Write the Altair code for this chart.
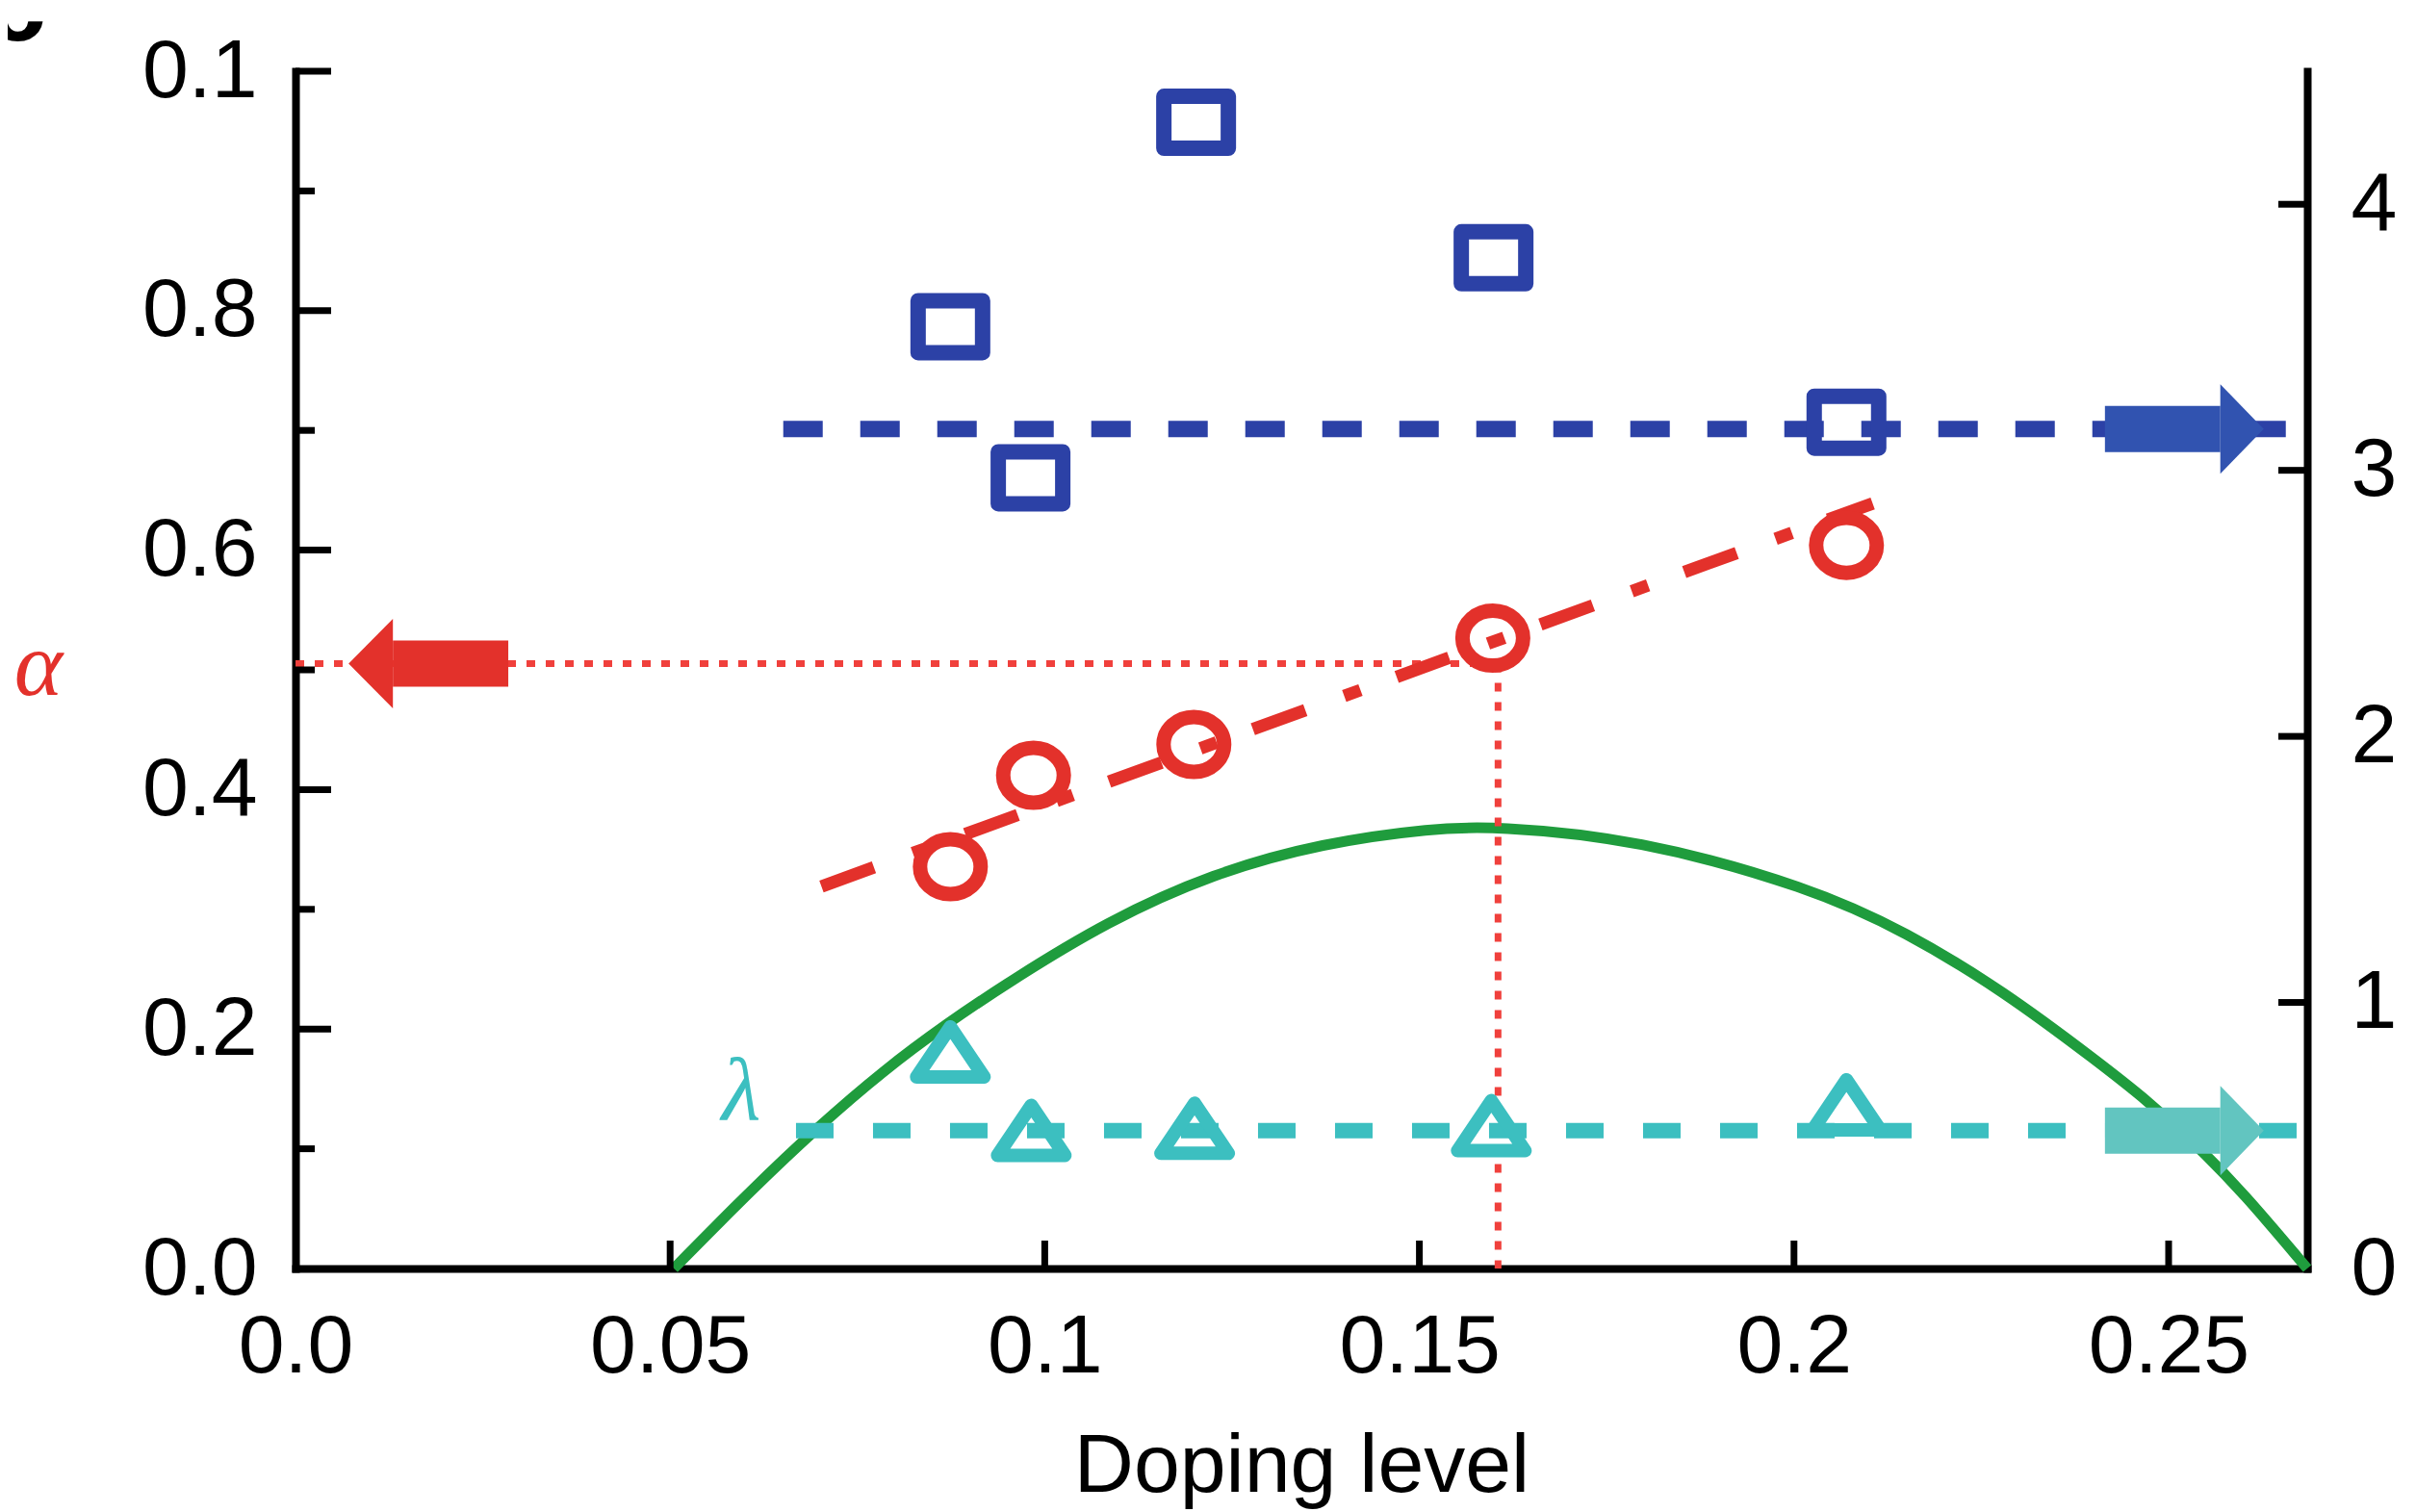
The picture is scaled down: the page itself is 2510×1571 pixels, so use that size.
import altair as alt
import pandas as pd

# ---------------- data ----------------
x_ticks = [0.0, 0.05, 0.1, 0.15, 0.2, 0.25]
x_tick_labels = ["0.0", "0.05", "0.1", "0.15", "0.2", "0.25"]
left_ticks = [0.0, 0.2, 0.4, 0.6, 0.8, 1.0]
left_tick_labels = ["0.0", "0.2", "0.4", "0.6", "0.8", "0.1"]
left_minor = [0.1, 0.3, 0.5, 0.7, 0.9]
right_ticks = [0, 1, 2, 3, 4]
right_tick_labels = ["0", "1", "2", "3", "4"]
x_inner_ticks = [0.05, 0.1, 0.15, 0.2, 0.25]
left_major_inner = [0.2, 0.4, 0.6, 0.8, 1.0]
right_inner = [1, 2, 3, 4]

# blue squares (right axis)
sq_x = [0.0874, 0.0981, 0.1202, 0.1599, 0.2070]
sq_y = [3.540, 2.972, 4.308, 3.799, 3.181]
# red circles (left axis)
ci_x = [0.0874, 0.0985, 0.1199, 0.1598, 0.2070]
ci_y = [0.3356, 0.412, 0.4377, 0.5265, 0.604]
# cyan triangles (right axis)
tr_x = [0.0874, 0.0982, 0.1200, 0.1596, 0.2070]
tr_y = [0.814, 0.519, 0.527, 0.537, 0.615]

# guide lines
blue_line_x = [0.0651, 0.2663]
blue_line_y = 3.155
cyan_line_x = [0.0668, 0.2673]
cyan_line_y = 0.518
red_line_x = [0.0702, 0.2105]
red_line_y = [0.3191, 0.639]
red_dot_x = 0.1605
red_dot_y = 0.5052

# green curve (left axis)
green_x = [0.0505, 0.0612, 0.0698, 0.0784, 0.0869, 0.0955, 0.1083, 0.1224,
           0.1371, 0.1519, 0.1600, 0.1790, 0.2022, 0.2150, 0.2279, 0.2407,
           0.2472, 0.2536, 0.2600, 0.2685]
green_y = [0.0, 0.0679, 0.1186, 0.1650, 0.2045, 0.2405, 0.2898, 0.3300,
           0.3555, 0.3678, 0.3694, 0.3590, 0.3182, 0.2810, 0.2320, 0.1720,
           0.1400, 0.1040, 0.0630, 0.0]

# arrows: tail, head base, y
red_arrow = {"tail": 0.0284, "base": 0.0130, "y": 0.5052}
blue_arrow = {"tail": 0.2415, "base": 0.2569, "y": 3.155}
cyan_arrow = {"tail": 0.2415, "base": 0.2569, "y": 0.518}

# annotations
alpha_pos = (-0.0343, 0.4795)
lambda_pos = (0.0595, 0.5625)

# ---------------- styling ----------------
FONT = "Liberation Sans"
SERIF = "Liberation Serif"
W, H = 2090, 1244
BLUE = "#2c41a6"
BLUE_ARROW = "#3153b0"
RED = "#e3312b"
RED_DOT = "#f0403c"
GREEN = "#1f9c3d"
CYAN = "#3cbfc0"
CYAN_ARROW = "#62c5c0"

xs = alt.Scale(domain=[0, 0.2685], nice=False, zero=False)
yls = alt.Scale(domain=[0, 1], nice=False, zero=False)
yrs = alt.Scale(domain=[0, 4.5], nice=False, zero=False)


def lab_expr(labels, step):
    arr = "[" + ",".join("'%s'" % s for s in labels) + "]"
    return "%s[round(datum.value / %s)]" % (arr, step)


common_axis = dict(ticks=False, tickSize=0, domain=True, domainColor="black",
                   domainWidth=8, domainCap="square", grid=False,
                   labelFont=FONT, labelFontSize=86, labelColor="black",
                   labelOverlap=False, labelFlush=False)

x_axis = alt.Axis(orient="bottom", values=x_ticks, labelExpr=lab_expr(x_tick_labels, 0.05),
                  labelBaseline="alphabetic", labelPadding=107,
                  title="Doping level", titleFont=FONT, titleFontSize=86,
                  titleFontWeight="normal", titleColor="black",
                  titleBaseline="alphabetic", titleY=231, **common_axis)
yl_axis = alt.Axis(orient="left", values=left_ticks, labelExpr=lab_expr(left_tick_labels, 0.2),
                   labelPadding=40, title=None, **common_axis)
yr_axis = alt.Axis(orient="right", values=right_ticks, labelExpr=lab_expr(right_tick_labels, 1),
                   labelPadding=45, title=None, **common_axis)


def X(f="x"):
    return alt.X(f, type="quantitative", scale=xs, axis=x_axis)


def YL(f="y"):
    return alt.Y(f, type="quantitative", scale=yls, axis=yl_axis)


def YR(f="y"):
    return alt.Y(f, type="quantitative", scale=yrs, axis=yr_axis)


SQUARE = "M-1,-0.806L1,-0.806L1,0.806L-1,0.806Z"
K = 0.5523
RY = 0.905
ELLIPSE = ("M-1,0C-1,%.4f,%.4f,%.4f,0,%.4fC%.4f,%.4f,1,%.4f,1,0"
           "C1,%.4f,%.4f,%.4f,0,%.4fC%.4f,%.4f,-1,%.4f,-1,0Z") % (
    -RY * K, -K, -RY, -RY, K, -RY, -RY * K,
    RY * K, K, RY, RY, -K, RY, RY * K)
TRIANGLE = "M0,-0.743L1,0.743L-1,0.743Z"
HEAD_RIGHT = "M0,-1L0.97,0L0,1Z"
HEAD_LEFT = "M0,-1L-0.99,0L0,1Z"

# ---------------- left-axis layers ----------------
green = alt.Chart(pd.DataFrame({"x": green_x, "y": green_y})).mark_line(
    color=GREEN, strokeWidth=11, interpolate="basis").encode(x=X(), y=YL())

red_h = alt.Chart(pd.DataFrame({"x": [0.0], "x2": [red_dot_x], "y": [red_dot_y]})).mark_rule(
    color=RED_DOT, strokeWidth=7, strokeDash=[9, 11]).encode(x=X(), x2="x2", y=YL())
red_v = alt.Chart(pd.DataFrame({"x": [red_dot_x], "y": [red_dot_y], "y2": [0.0]})).mark_rule(
    color=RED_DOT, strokeWidth=7, strokeDash=[9, 11]).encode(x=X(), y=YL(), y2="y2")

red_line = alt.Chart(pd.DataFrame({"x": red_line_x, "y": red_line_y})).mark_line(
    color=RED, strokeWidth=13, strokeDash=[58, 43, 18, 40]).encode(x=X(), y=YL())

circles = alt.Chart(pd.DataFrame({"x": ci_x, "y": ci_y})).mark_point(
    shape=ELLIPSE, size=3969, filled=False, stroke=RED, strokeWidth=15, opacity=1
).encode(x=X(), y=YL())

red_shaft = alt.Chart(pd.DataFrame({"x": [red_arrow["tail"]], "x2": [red_arrow["base"]],
                                    "y": [red_arrow["y"]]})).mark_rule(
    color=RED, strokeWidth=48, strokeCap="butt").encode(x=X(), x2="x2", y=YL())
red_head = alt.Chart(pd.DataFrame({"x": [red_arrow["base"]], "y": [red_arrow["y"]]})).mark_point(
    shape=HEAD_LEFT, size=93 * 93, filled=True, fill=RED, strokeWidth=0, opacity=1
).encode(x=X(), y=YL())

alpha_txt = alt.Chart(pd.DataFrame({"x": [alpha_pos[0]], "y": [alpha_pos[1]], "t": ["α"]})).mark_text(
    font=SERIF, fontStyle="italic", fontSize=96, color=RED, align="center", baseline="alphabetic"
).encode(x=X(), y=YL(), text="t:N")

panel_txt = alt.Chart(pd.DataFrame({"t": ["c"]})).mark_text(
    font=FONT, fontWeight="bold", fontSize=110, color="black", align="center", baseline="alphabetic"
).encode(x=alt.value(-290), y=alt.value(-32), text="t:N")

x_tick_rules = alt.Chart(pd.DataFrame({"x": x_inner_ticks})).mark_rule(
    color="black", strokeWidth=7, strokeCap="butt").encode(x=X(), y=alt.value(H), y2=alt.value(H - 29))
l_major = alt.Chart(pd.DataFrame({"y": left_major_inner})).mark_rule(
    color="black", strokeWidth=7, strokeCap="butt").encode(y=YL(), x=alt.value(0), x2=alt.value(37))
l_minor = alt.Chart(pd.DataFrame({"y": left_minor})).mark_rule(
    color="black", strokeWidth=7, strokeCap="butt").encode(y=YL(), x=alt.value(0), x2=alt.value(20))

left_group = alt.layer(green, red_h, red_v, red_line, circles, red_shaft, red_head,
                       alpha_txt, panel_txt, x_tick_rules, l_major, l_minor)

# ---------------- right-axis layers ----------------
blue_line = alt.Chart(pd.DataFrame({"x": [blue_line_x[0]], "x2": [blue_line_x[1]],
                                    "y": [blue_line_y]})).mark_rule(
    color=BLUE, strokeWidth=17, strokeDash=[41, 39], strokeCap="butt").encode(x=X(), x2="x2", y=YR())
squares = alt.Chart(pd.DataFrame({"x": sq_x, "y": sq_y})).mark_point(
    shape=SQUARE, size=4489, filled=False, stroke=BLUE, strokeWidth=16, strokeJoin="round", opacity=1
).encode(x=X(), y=YR())

cyan_line = alt.Chart(pd.DataFrame({"x": [cyan_line_x[0]], "x2": [cyan_line_x[1]],
                                    "y": [cyan_line_y]})).mark_rule(
    color=CYAN, strokeWidth=16, strokeDash=[39, 41], strokeCap="butt").encode(x=X(), x2="x2", y=YR())
triangles = alt.Chart(pd.DataFrame({"x": tr_x, "y": tr_y})).mark_point(
    shape=TRIANGLE, size=4900, filled=False, stroke=CYAN, strokeWidth=14, strokeJoin="round", opacity=1
).encode(x=X(), y=YR())

blue_shaft = alt.Chart(pd.DataFrame({"x": [blue_arrow["tail"]], "x2": [blue_arrow["base"]],
                                     "y": [blue_arrow["y"]]})).mark_rule(
    color=BLUE_ARROW, strokeWidth=48, strokeCap="butt").encode(x=X(), x2="x2", y=YR())
blue_head = alt.Chart(pd.DataFrame({"x": [blue_arrow["base"]], "y": [blue_arrow["y"]]})).mark_point(
    shape=HEAD_RIGHT, size=93 * 93, filled=True, fill=BLUE_ARROW, strokeWidth=0, opacity=1
).encode(x=X(), y=YR())

cyan_shaft = alt.Chart(pd.DataFrame({"x": [cyan_arrow["tail"]], "x2": [cyan_arrow["base"]],
                                     "y": [cyan_arrow["y"]]})).mark_rule(
    color=CYAN_ARROW, strokeWidth=48, strokeCap="butt").encode(x=X(), x2="x2", y=YR())
cyan_head = alt.Chart(pd.DataFrame({"x": [cyan_arrow["base"]], "y": [cyan_arrow["y"]]})).mark_point(
    shape=HEAD_RIGHT, size=93 * 93, filled=True, fill=CYAN_ARROW, strokeWidth=0, opacity=1
).encode(x=X(), y=YR())

lambda_txt = alt.Chart(pd.DataFrame({"x": [lambda_pos[0]], "y": [lambda_pos[1]], "t": ["λ"]})).mark_text(
    font=SERIF, fontStyle="italic", fontSize=94, color=CYAN, align="center", baseline="alphabetic"
).encode(x=X(), y=YR(), text="t:N")

r_ticks = alt.Chart(pd.DataFrame({"y": right_inner})).mark_rule(
    color="black", strokeWidth=7, strokeCap="butt").encode(y=YR(), x=alt.value(W - 30), x2=alt.value(W))

right_group = alt.layer(blue_line, squares, cyan_line, triangles, blue_shaft, blue_head,
                        cyan_shaft, cyan_head, lambda_txt, r_ticks)

chart = alt.layer(left_group, right_group).resolve_scale(y="independent").properties(
    width=W, height=H,
    padding={"left": 299, "top": 66, "right": 100, "bottom": 252},
    autosize=alt.AutoSizeParams(type="none"),
    background="white",
).configure_view(stroke=None)

chart.save("out.html", embed_options={"renderer": "svg", "actions": False})
